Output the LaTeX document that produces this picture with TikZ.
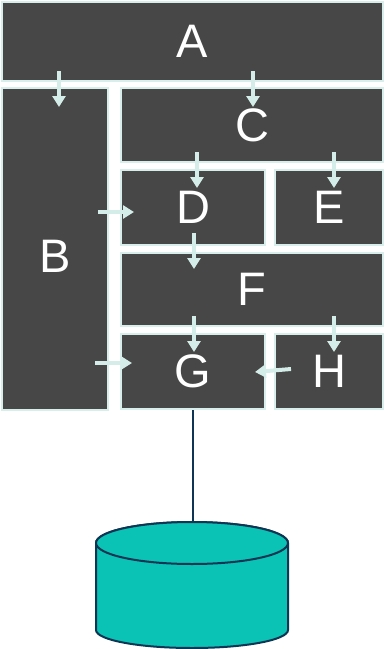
\documentclass[tikz,border=0pt]{standalone}
\usepackage{fontspec}
\setmainfont{Liberation Sans}
\usetikzlibrary{arrows.meta,calc}
\definecolor{boxfill}{HTML}{474747}
\definecolor{boxline}{HTML}{D8EEEA}
\definecolor{arrcol}{HTML}{D5EDE8}
\definecolor{cylfill}{HTML}{0BC3B5}
\definecolor{cylline}{HTML}{0E3553}
\begin{document}
\begin{tikzpicture}[x=1pt,y=-1pt,
  blk/.style={draw=boxline,fill=boxfill,line width=2pt,inner sep=0pt,
    text=white,font=\fontsize{47}{47}\selectfont,anchor=center},
  arr/.style={draw=arrcol,line width=4pt,-{Triangle[width=13pt,length=11pt]}},
  conn/.style={draw=cylline,line width=2pt},
  cyl/.style={fill=cylfill,draw=cylline,line width=2pt}]
\useasboundingbox (0,0) rectangle (385,649);
% boxes
\node[blk,minimum width=381pt,minimum height=79pt] (A) at (192.5,41.5) {A};
\node[blk,minimum width=106pt,minimum height=322pt,text height=46pt] (B) at (55,249) {B};
\node[blk,minimum width=262pt,minimum height=74pt] (C) at (252,125) {C};
\node[blk,minimum width=144pt,minimum height=75pt] (D) at (193,207.5) {D};
\node[blk,minimum width=108pt,minimum height=75pt] (E) at (329,207.5) {E};
\node[blk,minimum width=262pt,minimum height=73pt] (F) at (252,289.5) {F};
\node[blk,minimum width=144pt,minimum height=75pt] (G) at (193,371.5) {G};
\node[blk,minimum width=108pt,minimum height=75pt] (H) at (329,371.5) {H};
% arrows
\draw[arr] ($(A.south -| 59,0)+(0,-11)$) -- ($(B.north -| 59,0)+(0,20)$);
\draw[arr] ($(A.south -| 253,0)+(0,-11)$) -- ($(C.north -| 253,0)+(0,20)$);
\draw[arr] ($(C.south -| 197,0)+(0,-11)$) -- ($(D.north -| 197,0)+(0,19)$);
\draw[arr] ($(C.south -| 334,0)+(0,-11)$) -- ($(E.north -| 334,0)+(0,19)$);
\draw[arr] ($(D.south -| 194,0)+(0,-13)$) -- ($(F.north -| 194,0)+(0,17)$);
\draw[arr] ($(F.south -| 194,0)+(0,-11)$) -- ($(G.north -| 194,0)+(0,19)$);
\draw[arr] ($(F.south -| 334,0)+(0,-11)$) -- ($(H.north -| 334,0)+(0,19)$);
\draw[arr] ($(B.east |- 0,212)+(-11,0)$) -- ($(D.west |- 0,212)+(14,0)$);
\draw[arr] ($(B.east |- 0,363)+(-14,0)$) -- ($(G.west |- 0,363)+(12,0)$);
\draw[arr] ($(H.west |- 0,369)+(17,0)$) -- ($(G.east |- 0,372)+(-11,0)$);
% database cylinder
\coordinate (db) at (192,522);
\path[cyl] (96,543) -- (96,630) arc[start angle=180,end angle=0,x radius=96,y radius=18]
  -- (288,543) arc[start angle=0,end angle=-180,x radius=96,y radius=21] -- cycle;
\draw[cyl] (192,543) ellipse[x radius=96,y radius=21];
\draw[conn] (G.south) -- (G.south |- db);
\end{tikzpicture}
\end{document}
